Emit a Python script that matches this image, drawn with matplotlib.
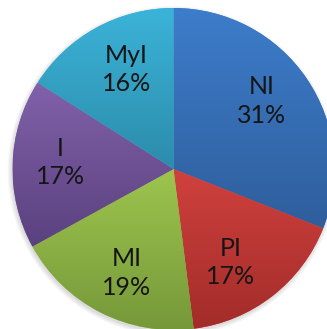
import numpy as np
import matplotlib
matplotlib.use("Agg")
import matplotlib.pyplot as plt
from matplotlib.patches import Circle
from matplotlib.colors import to_rgb

labels = ["NI", "PI", "MI", "I", "MyI"]
shares = [31, 17, 19, 17, 16]

# top / bottom colours of each slice's vertical gradient
top_cols = ["#3d7dcb", "#d0413e", "#9dc54e", "#8161aa", "#3bb3d8"]
bot_cols = ["#2f5e9c", "#a22c29", "#76983a", "#5a417e", "#2c8cab"]

# small pixel nudges for the label boxes (best-fit placement)
nudge = [(-8, 3), (-14, -2), (6, -1), (3, 3), (9, -2)]

plt.rcParams['font.family'] = ["Lato", "DejaVu Sans"]

W, H = 327, 329
fig = plt.figure(figsize=(W / 100, H / 100), dpi=100)
ax = fig.add_axes([0, 0, 1, 1])

cx, cy, R = 173.5, H - 169, 161

# soft shadow under the pie
for k in range(6):
    ax.add_patch(Circle((cx - 1, cy - 2), R + 4 - k * 0.8, color="black",
                        alpha=0.025, lw=0, zorder=0))

wedges, _ = ax.pie(shares, startangle=90, counterclock=False,
                   center=(cx, cy), radius=R, frame=True,
                   wedgeprops=dict(linewidth=0))

for w, c0, c1 in zip(wedges, top_cols, bot_cols):
    w.set_facecolor(c0)
    w.set_zorder(1)
    ext = w.get_path().get_extents()
    t = np.linspace(0, 1, 256)[:, None, None]
    grad = np.array(to_rgb(c1)) * (1 - t) + np.array(to_rgb(c0)) * t
    im = ax.imshow(grad, extent=[ext.x0, ext.x1, ext.y0, ext.y1],
                   origin="lower", aspect="auto", zorder=2,
                   interpolation="bilinear")
    im.set_clip_path(w)

for w, lab, s, (dx, dy) in zip(wedges, labels, shares, nudge):
    mid = np.deg2rad((w.theta1 + w.theta2) / 2)
    d = 0.72 * R
    ax.text(cx + d * np.cos(mid) + dx, cy + d * np.sin(mid) + dy,
            f"{lab}\n{s}%", ha="center", va="center", fontsize=18,
            color="#151515", linespacing=1.3, zorder=3)

ax.set_xlim(0, W)
ax.set_ylim(0, H)
ax.set_aspect("equal")
ax.axis("off")
fig.savefig("out.png", dpi=100)
